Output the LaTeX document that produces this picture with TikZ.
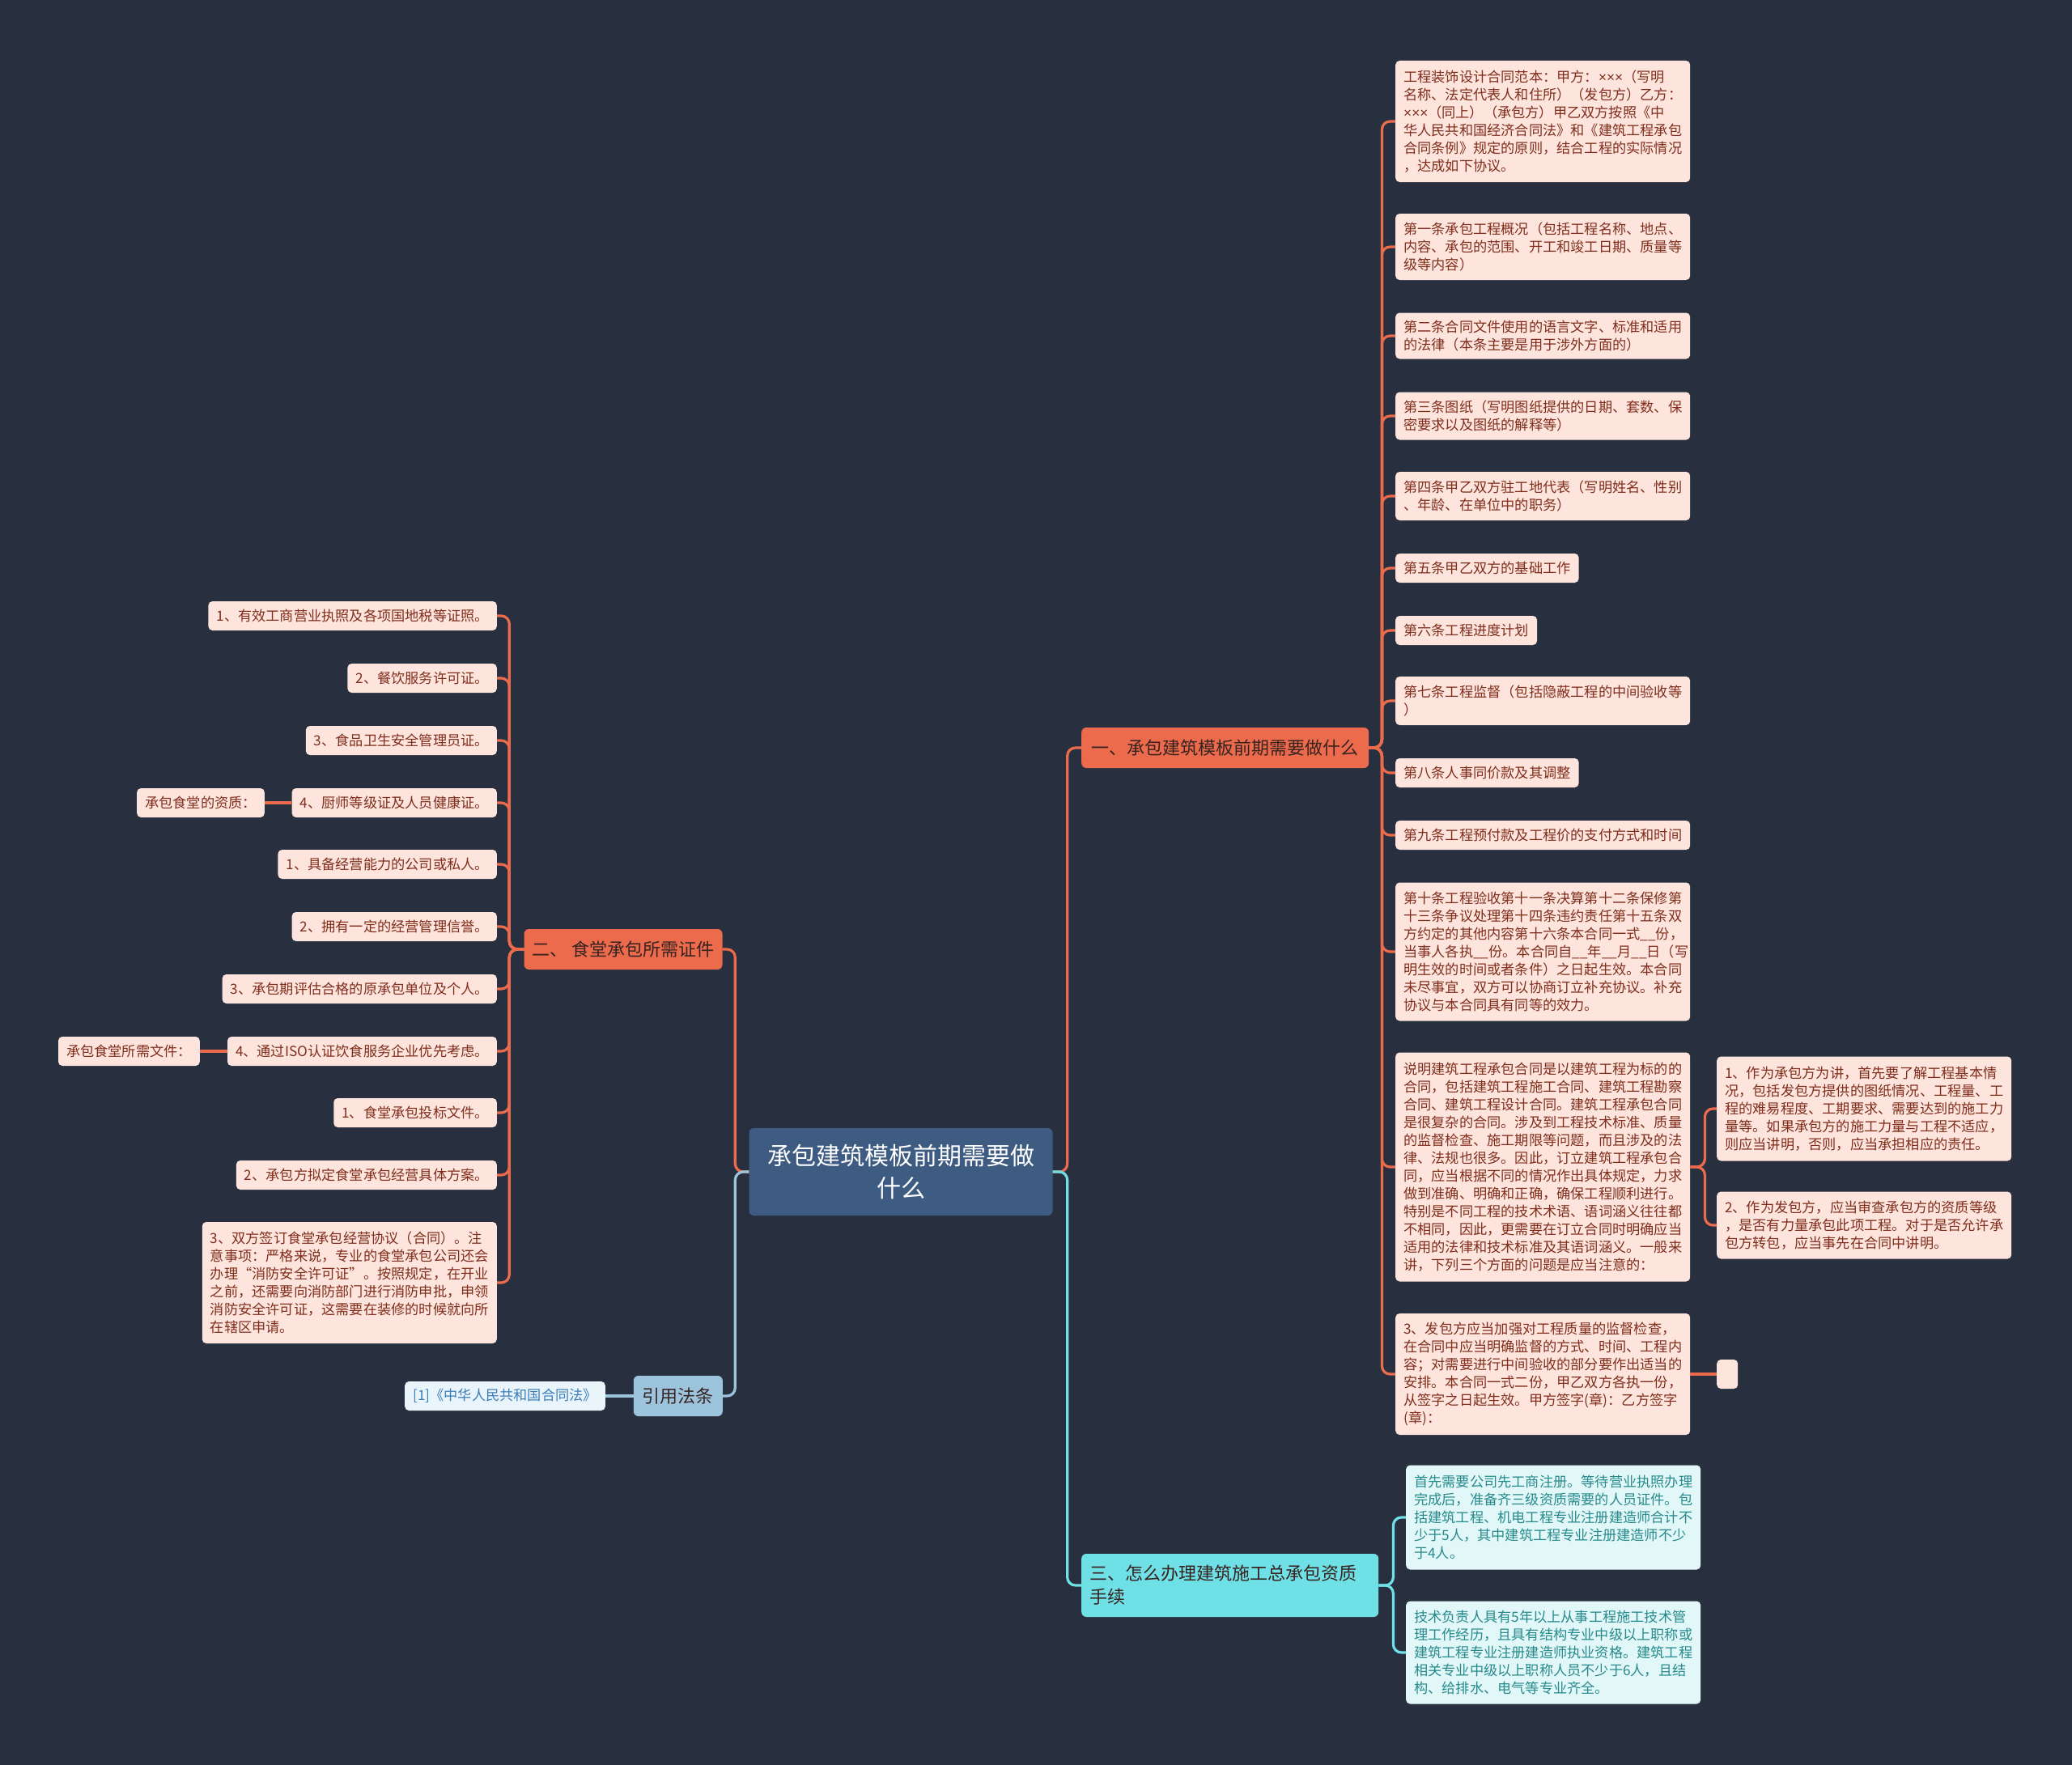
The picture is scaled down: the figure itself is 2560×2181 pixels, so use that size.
\documentclass[tikz,border=0pt]{standalone}
\usepackage{fontspec}
\setmainfont{Noto Sans CJK SC}
\newfontfamily\latinf{Liberation Sans}
\definecolor{bgC}{RGB}{40,48,63}
\definecolor{orangeC}{RGB}{236,107,77}
\definecolor{pinkF}{RGB}{253,229,221}
\definecolor{pinkT}{RGB}{128,45,28}
\definecolor{rootC}{RGB}{62,91,130}
\definecolor{cyanC}{RGB}{110,224,230}
\definecolor{cyanF}{RGB}{226,247,248}
\definecolor{cyanT}{RGB}{38,138,140}
\definecolor{lblueC}{RGB}{157,196,221}
\definecolor{refF}{RGB}{234,245,251}
\definecolor{refT}{RGB}{58,125,184}
\definecolor{darkT}{RGB}{55,35,32}
\begin{document}
\begin{tikzpicture}[x=1pt,y=-1pt,
  leaf/.style={fill=pinkF, text=pinkT, rounded corners=5pt, inner xsep=10pt, inner ysep=4pt,
    font=\fontsize{17.2pt}{22pt}\selectfont, align=left, minimum height=36pt},
  wleaf/.style={leaf, text width=344pt},
  cleaf/.style={wleaf, fill=cyanF, text=cyanT},
  branch/.style={fill=orangeC, text=darkT, rounded corners=6pt, inner xsep=12pt,
    font=\fontsize{22pt}{29pt}\selectfont, minimum height=50pt},
  rootbox/.style={fill=rootC, text=white, rounded corners=6pt, align=center,
    font=\fontsize{30pt}{40pt}\selectfont, minimum width=375pt, minimum height=108pt},
  oline/.style={draw=orangeC, line width=3.2pt, rounded corners=10pt},
  cline/.style={draw=cyanC, line width=3.2pt, rounded corners=10pt},
  bline/.style={draw=lblueC, line width=3.2pt, rounded corners=10pt}
]
\useasboundingbox (0,0) rectangle (2560,2181);
\fill[bgC] (0,0) rectangle (2560,2181);

% root
\node[rootbox] (root) at (1113,1448) {承包建筑模板前期需要做\\什么};

% branches
\node[branch, anchor=west, minimum width=355pt] (b1) at (1336,924) {一、承包建筑模板前期需要做什么};
\node[branch, inner xsep=9pt, minimum width=245pt] (b2) at (770,1173) {二、 食堂承包所需证件};
\node[branch, anchor=east, fill=lblueC, inner xsep=11pt] (cite) at (893,1725) {引用法条};
\node[branch, anchor=west, fill=cyanC, text width=347pt, inner xsep=10pt, align=left, minimum height=78pt] (b3) at (1336,1959) {三、怎么办理建筑施工总承包资质\\手续};
\node[leaf, anchor=east, fill=refF, text=refT] (ref1) at (748,1725) {[1]《中华人民共和国合同法》};

% right leaves of b1
\node[wleaf, anchor=west, minimum height=150pt] (r1) at (1724,150) {工程装饰设计合同范本：甲方：{\latinf ×××}（写明\\名称、法定代表人和住所）（发包方）乙方：\\{\latinf ×××}（同上）（承包方）甲乙双方按照《中\\华人民共和国经济合同法》和《建筑工程承包\\合同条例》规定的原则，结合工程的实际情况\\，达成如下协议。};
\node[wleaf, anchor=west, minimum height=82pt] (r2) at (1724,305) {第一条承包工程概况（包括工程名称、地点、\\内容、承包的范围、开工和竣工日期、质量等\\级等内容）};
\node[wleaf, anchor=west, minimum height=57pt] (r3) at (1724,415) {第二条合同文件使用的语言文字、标准和适用\\的法律（本条主要是用于涉外方面的）};
\node[wleaf, anchor=west, minimum height=59pt] (r4) at (1724,514) {第三条图纸（写明图纸提供的日期、套数、保\\密要求以及图纸的解释等）};
\node[wleaf, anchor=west, minimum height=60pt] (r5) at (1724,613) {第四条甲乙双方驻工地代表（写明姓名、性别\\、年龄、在单位中的职务）};
\node[leaf, anchor=west] (r6) at (1724,702) {第五条甲乙双方的基础工作};
\node[leaf, anchor=west] (r7) at (1724,779) {第六条工程进度计划};
\node[wleaf, anchor=west, minimum height=60pt] (r8) at (1724,866) {第七条工程监督（包括隐蔽工程的中间验收等\\）};
\node[leaf, anchor=west] (r9) at (1724,955) {第八条人事同价款及其调整};
\node[wleaf, anchor=west] (r10) at (1724,1032) {第九条工程预付款及工程价的支付方式和时间};
\node[wleaf, anchor=west, minimum height=171pt] (r11) at (1724,1176) {第十条工程验收第十一条决算第十二条保修第\\十三条争议处理第十四条违约责任第十五条双\\方约定的其他内容第十六条本合同一式\_\_份，\\当事人各执\_\_份。本合同自\_\_年\_\_月\_\_日（写\\明生效的时间或者条件）之日起生效。本合同\\未尽事宜，双方可以协商订立补充协议。补充\\协议与本合同具有同等的效力。};
\node[wleaf, anchor=west, minimum height=283pt] (r12) at (1724,1442) {说明建筑工程承包合同是以建筑工程为标的的\\合同，包括建筑工程施工合同、建筑工程勘察\\合同、建筑工程设计合同。建筑工程承包合同\\是很复杂的合同。涉及到工程技术标准、质量\\的监督检查、施工期限等问题，而且涉及的法\\律、法规也很多。因此，订立建筑工程承包合\\同，应当根据不同的情况作出具体规定，力求\\做到准确、明确和正确，确保工程顺利进行。\\特别是不同工程的技术术语、语词涵义往往都\\不相同，因此，更需要在订立合同时明确应当\\适用的法律和技术标准及其语词涵义。一般来\\讲，下列三个方面的问题是应当注意的：};
\node[wleaf, anchor=west, minimum height=150pt] (r13) at (1724,1698) {3、发包方应当加强对工程质量的监督检查，\\在合同中应当明确监督的方式、时间、工程内\\容；对需要进行中间验收的部分要作出适当的\\安排。本合同一式二份，甲乙双方各执一份，\\从签字之日起生效。甲方签字(章)：乙方签字\\(章)：};

% sub leaves of r12, r13
\node[wleaf, anchor=west, minimum height=129pt] (s1) at (2121,1370) {1、作为承包方为讲，首先要了解工程基本情\\况，包括发包方提供的图纸情况、工程量、工\\程的难易程度、工期要求、需要达到的施工力\\量等。如果承包方的施工力量与工程不适应，\\则应当讲明，否则，应当承担相应的责任。};
\node[wleaf, anchor=west, minimum height=83pt] (s2) at (2121,1514) {2、作为发包方，应当审查承包方的资质等级\\，是否有力量承包此项工程。对于是否允许承\\包方转包，应当事先在合同中讲明。};
\node[leaf, anchor=west, minimum width=26pt, inner xsep=0pt] (e1) at (2121,1698) {};

% leaves of b3
\node[cleaf, anchor=west, minimum height=129pt] (t1) at (1737,1875) {首先需要公司先工商注册。等待营业执照办理\\完成后，准备齐三级资质需要的人员证件。包\\括建筑工程、机电工程专业注册建造师合计不\\少于5人，其中建筑工程专业注册建造师不少\\于4人。};
\node[cleaf, anchor=west, minimum height=127pt] (t2) at (1737,2042) {技术负责人具有5年以上从事工程施工技术管\\理工作经历，且具有结构专业中级以上职称或\\建筑工程专业注册建造师执业资格。建筑工程\\相关专业中级以上职称人员不少于6人，且结\\构、给排水、电气等专业齐全。};

% left leaves of b2
\node[leaf, anchor=east] (l1) at (614,761) {1、有效工商营业执照及各项国地税等证照。};
\node[leaf, anchor=east] (l2) at (614,838) {2、餐饮服务许可证。};
\node[leaf, anchor=east] (l3) at (614,915) {3、食品卫生安全管理员证。};
\node[leaf, anchor=east] (l4) at (614,992) {4、厨师等级证及人员健康证。};
\node[leaf, anchor=east] (l5) at (614,1068) {1、具备经营能力的公司或私人。};
\node[leaf, anchor=east] (l6) at (614,1145) {2、拥有一定的经营管理信誉。};
\node[leaf, anchor=east] (l7) at (614,1222) {3、承包期评估合格的原承包单位及个人。};
\node[leaf, anchor=east] (l8) at (614,1299) {4、通过ISO认证饮食服务企业优先考虑。};
\node[leaf, anchor=east] (l9) at (614,1375) {1、食堂承包投标文件。};
\node[leaf, anchor=east] (l10) at (614,1452) {2、承包方拟定食堂承包经营具体方案。};
\node[wleaf, anchor=east, minimum height=150pt] (l11) at (614,1585) {3、双方签订食堂承包经营协议（合同）。注\\意事项：严格来说，专业的食堂承包公司还会\\办理“消防安全许可证”。按照规定，在开业\\之前，还需要向消防部门进行消防申批，申领\\消防安全许可证，这需要在装修的时候就向所\\在辖区申请。};
\node[leaf, anchor=east] (q1) at (327,992) {承包食堂的资质：};
\node[leaf, anchor=east] (q2) at (247,1299) {承包食堂所需文件：};

% connectors
\draw[oline] (root.west) -- ++(-17,0) |- (b2.east);
\draw[bline] (root.west) -- ++(-17,0) |- (cite.east);
\draw[oline] (root.east) -- ++(18,0) |- (b1.west);
\draw[cline] (root.east) -- ++(18,0) |- (b3.west);
\draw[bline] (cite.west) -- (ref1.east);
\foreach \n in {r1,r2,r3,r4,r5,r6,r7,r8,r9,r10,r11,r12,r13}
  \draw[oline] (b1.east) -- ++(16,0) |- (\n.west);
\foreach \n in {l1,l2,l3,l4,l5,l6,l7,l8,l9,l10,l11}
  \draw[oline] (b2.west) -- ++(-18,0) |- (\n.east);
\foreach \n in {s1,s2}
  \draw[oline] (r12.east) -- ++(18,0) |- (\n.west);
\draw[oline] (r13.east) -- (e1.west);
\draw[oline] (l4.west) -- (q1.east);
\draw[oline] (l8.west) -- (q2.east);
\foreach \n in {t1,t2}
  \draw[cline] (b3.east) -- ++(18,0) |- (\n.west);
\end{tikzpicture}
\end{document}
